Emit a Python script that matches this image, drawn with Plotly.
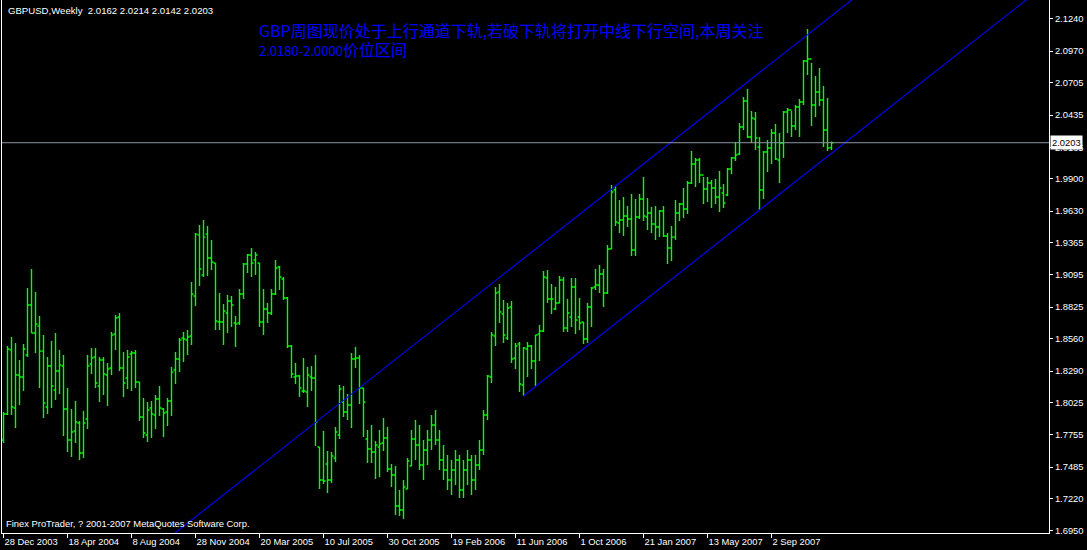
import plotly.graph_objects as go

# ---------------- data (weekly GBPUSD bars) ----------------
bar_open = [
    1.7712, 1.7930, 1.8466, 1.7980, 1.8256, 1.8240, 1.8424, 1.8843, 1.8608, 1.8667,
    1.8457, 1.7988, 1.8332, 1.8131, 1.8290, 1.8332, 1.7972, 1.7712, 1.7787, 1.7854,
    1.7603, 1.7888, 1.8349, 1.8407, 1.8164, 1.8382, 1.8256, 1.8315, 1.8600, 1.8742,
    1.8315, 1.8231, 1.8432, 1.8441, 1.8198, 1.7904, 1.7754, 1.7980, 1.7921, 1.8055,
    1.7972, 1.7946, 1.8039, 1.8298, 1.8391, 1.8567, 1.8550, 1.8583, 1.8919, 1.9429,
    1.9094, 1.9437, 1.9237, 1.9195, 1.8701, 1.8701, 1.8776, 1.8877, 1.8692, 1.8692,
    1.8935, 1.9187, 1.9262, 1.9220, 1.9195, 1.8701, 1.8810, 1.8776, 1.8935, 1.9162,
    1.9061, 1.8902, 1.8500, 1.8240, 1.8248, 1.8122, 1.8114, 1.8240, 1.8231, 1.7653,
    1.7377, 1.7511, 1.7377, 1.7561, 1.7754, 1.8030, 1.7946, 1.8005, 1.8391, 1.8399,
    1.8148, 1.7720, 1.7636, 1.7611, 1.7653, 1.7687, 1.7729, 1.7469, 1.7419, 1.7159,
    1.7125, 1.7301, 1.7494, 1.7720, 1.7670, 1.7502, 1.7628, 1.7712, 1.7838, 1.7712,
    1.7544, 1.7460, 1.7377, 1.7460, 1.7544, 1.7293, 1.7460, 1.7544, 1.7377, 1.7502,
    1.7628, 1.7921, 1.8240, 1.8583, 1.8952, 1.8768, 1.8567, 1.8826, 1.8399, 1.8516,
    1.8173, 1.8474, 1.8500, 1.8374, 1.8600, 1.8625, 1.9069, 1.8893, 1.8810, 1.8860,
    1.9052, 1.8650, 1.8742, 1.8994, 1.8742, 1.8701, 1.8558, 1.8826, 1.8994, 1.9011,
    1.9103, 1.8944, 1.9312, 1.9807, 1.9530, 1.9555, 1.9589, 1.9564, 1.9304, 1.9580,
    1.9731, 1.9580, 1.9614, 1.9522, 1.9497, 1.9631, 1.9421, 1.9321, 1.9412, 1.9614,
    1.9689, 1.9648, 1.9866, 2.0025, 2.0058, 1.9932, 1.9815, 1.9866, 1.9824, 1.9748,
    1.9782, 1.9765, 1.9983, 2.0075, 2.0108, 2.0335, 2.0553, 2.0251, 2.0402, 2.0167,
    1.9807, 2.0125, 2.0159, 2.0284, 2.0058, 2.0201, 2.0460, 2.0477, 2.0343, 2.0502,
    2.0544, 2.0888, 2.0905, 2.0519, 2.0628, 2.0561, 2.0310, 2.0162,
]
bar_high = [
    1.7946, 1.8500, 1.8575, 1.8525, 1.8382, 1.8516, 1.8986, 1.9145, 1.8952, 1.8751,
    1.8592, 1.8407, 1.8541, 1.8608, 1.8466, 1.8424, 1.8148, 1.7972, 1.8039, 1.7871,
    1.7955, 1.8424, 1.8483, 1.8483, 1.8407, 1.8407, 1.8357, 1.8617, 1.8759, 1.8776,
    1.8449, 1.8466, 1.8457, 1.8466, 1.8198, 1.8064, 1.8030, 1.8039, 1.8089, 1.8164,
    1.7980, 1.8064, 1.8324, 1.8449, 1.8567, 1.8617, 1.8633, 1.9036, 1.9446, 1.9513,
    1.9555, 1.9505, 1.9388, 1.9195, 1.8944, 1.8851, 1.8927, 1.8919, 1.8751, 1.8977,
    1.9195, 1.9270, 1.9321, 1.9287, 1.9195, 1.8977, 1.8860, 1.8977, 1.9220, 1.9170,
    1.9078, 1.8910, 1.8508, 1.8357, 1.8256, 1.8399, 1.8324, 1.8332, 1.8424, 1.7653,
    1.7787, 1.7620, 1.7611, 1.7821, 1.8173, 1.8164, 1.8097, 1.8441, 1.8491, 1.8424,
    1.8148, 1.7796, 1.7838, 1.7704, 1.7796, 1.7896, 1.7821, 1.7511, 1.7494, 1.7293,
    1.7377, 1.7561, 1.7796, 1.7879, 1.7838, 1.7712, 1.7796, 1.7921, 1.7963, 1.7796,
    1.7670, 1.7586, 1.7544, 1.7628, 1.7586, 1.7544, 1.7628, 1.7586, 1.7586, 1.7712,
    1.7963, 1.8256, 1.8617, 1.8994, 1.9019, 1.8885, 1.8860, 1.8877, 1.8525, 1.8533,
    1.8491, 1.8533, 1.8508, 1.8592, 1.8675, 1.9128, 1.9136, 1.9019, 1.8994, 1.9086,
    1.9078, 1.8893, 1.9069, 1.9069, 1.8902, 1.8701, 1.8860, 1.8994, 1.9145, 1.9178,
    1.9145, 1.9346, 1.9849, 1.9840, 1.9723, 1.9748, 1.9673, 1.9773, 1.9731, 1.9773,
    1.9916, 1.9740, 1.9664, 1.9673, 1.9639, 1.9673, 1.9446, 1.9505, 1.9723, 1.9698,
    1.9824, 1.9882, 2.0134, 2.0075, 2.0075, 1.9916, 1.9916, 1.9891, 1.9899, 1.9966,
    1.9857, 1.9991, 2.0083, 2.0209, 2.0368, 2.0586, 2.0653, 2.0469, 2.0460, 2.0251,
    2.0134, 2.0226, 2.0318, 2.0360, 2.0284, 2.0469, 2.0494, 2.0469, 2.0519, 2.0569,
    2.0896, 2.1156, 2.0871, 2.0762, 2.0829, 2.0678, 2.0578, 2.0214,
]
bar_low = [
    1.7687, 1.7921, 1.7921, 1.7812, 1.8005, 1.8122, 1.8407, 1.8608, 1.8441, 1.8148,
    1.7896, 1.7930, 1.7980, 1.8047, 1.8097, 1.7745, 1.7611, 1.7569, 1.7687, 1.7544,
    1.7561, 1.7804, 1.8265, 1.8148, 1.8030, 1.8089, 1.7997, 1.8256, 1.8466, 1.8290,
    1.8072, 1.8139, 1.8122, 1.8148, 1.7871, 1.7729, 1.7695, 1.7729, 1.7804, 1.7913,
    1.7737, 1.7829, 1.7913, 1.8181, 1.8281, 1.8365, 1.8424, 1.8508, 1.8835, 1.9002,
    1.9078, 1.9086, 1.9136, 1.8633, 1.8633, 1.8508, 1.8608, 1.8659, 1.8491, 1.8675,
    1.8893, 1.9111, 1.9078, 1.9094, 1.8659, 1.8592, 1.8692, 1.8759, 1.8927, 1.8969,
    1.8885, 1.8483, 1.8231, 1.8181, 1.8072, 1.8106, 1.7988, 1.8122, 1.7662, 1.7301,
    1.7343, 1.7268, 1.7351, 1.7527, 1.7720, 1.7904, 1.7879, 1.7812, 1.8315, 1.8014,
    1.7737, 1.7519, 1.7519, 1.7385, 1.7402, 1.7620, 1.7444, 1.7318, 1.7083, 1.7075,
    1.7050, 1.7301, 1.7494, 1.7544, 1.7460, 1.7377, 1.7502, 1.7628, 1.7670, 1.7460,
    1.7377, 1.7293, 1.7251, 1.7335, 1.7226, 1.7226, 1.7335, 1.7251, 1.7293, 1.7460,
    1.7586, 1.7879, 1.8190, 1.8500, 1.8692, 1.8525, 1.8550, 1.8357, 1.8307, 1.8114,
    1.8081, 1.8240, 1.8307, 1.8164, 1.8374, 1.8617, 1.8860, 1.8768, 1.8801, 1.8860,
    1.8617, 1.8617, 1.8659, 1.8600, 1.8633, 1.8516, 1.8525, 1.8659, 1.8969, 1.8944,
    1.8826, 1.8935, 1.9312, 1.9505, 1.9446, 1.9421, 1.9497, 1.9254, 1.9254, 1.9564,
    1.9547, 1.9471, 1.9446, 1.9388, 1.9412, 1.9412, 1.9187, 1.9212, 1.9388, 1.9547,
    1.9572, 1.9606, 1.9857, 1.9832, 1.9866, 1.9689, 1.9706, 1.9656, 1.9689, 1.9622,
    1.9656, 1.9757, 1.9941, 2.0050, 2.0100, 2.0310, 2.0243, 2.0201, 2.0142, 1.9639,
    1.9731, 1.9958, 2.0025, 2.0058, 1.9866, 2.0075, 2.0284, 2.0251, 2.0310, 2.0251,
    2.0519, 2.0771, 2.0343, 2.0419, 2.0511, 2.0167, 2.0134, 2.0142,
]
bar_close = [
    1.7930, 1.8474, 1.7988, 1.8256, 1.8240, 1.8474, 1.8843, 1.8608, 1.8684, 1.8457,
    1.8022, 1.8332, 1.8164, 1.8290, 1.8340, 1.7972, 1.7712, 1.7779, 1.7863, 1.7603,
    1.7854, 1.8332, 1.8399, 1.8190, 1.8382, 1.8265, 1.8307, 1.8592, 1.8734, 1.8315,
    1.8190, 1.8407, 1.8441, 1.8198, 1.7904, 1.7771, 1.7963, 1.7930, 1.8055, 1.7980,
    1.7938, 1.8039, 1.8281, 1.8391, 1.8550, 1.8558, 1.8575, 1.8935, 1.9437, 1.9145,
    1.9412, 1.9237, 1.9203, 1.8709, 1.8701, 1.8793, 1.8877, 1.8843, 1.8684, 1.8935,
    1.9187, 1.9262, 1.9195, 1.9262, 1.8701, 1.8810, 1.8776, 1.8935, 1.9153, 1.9078,
    1.8902, 1.8500, 1.8265, 1.8248, 1.8148, 1.8122, 1.8256, 1.8231, 1.7863, 1.7377,
    1.7368, 1.7377, 1.7578, 1.7779, 1.8139, 1.7946, 1.8005, 1.8391, 1.8399, 1.8148,
    1.8030, 1.7636, 1.7611, 1.7670, 1.7679, 1.7729, 1.7469, 1.7419, 1.7159, 1.7125,
    1.7318, 1.7536, 1.7720, 1.7670, 1.7502, 1.7628, 1.7712, 1.7838, 1.7712, 1.7544,
    1.7460, 1.7377, 1.7460, 1.7544, 1.7293, 1.7460, 1.7544, 1.7377, 1.7502, 1.7628,
    1.7921, 1.8248, 1.8592, 1.8944, 1.8784, 1.8592, 1.8818, 1.8391, 1.8500, 1.8181,
    1.8483, 1.8500, 1.8374, 1.8592, 1.8625, 1.9078, 1.8893, 1.8893, 1.8860, 1.9052,
    1.8650, 1.8776, 1.8994, 1.8717, 1.8692, 1.8558, 1.8826, 1.8986, 1.9011, 1.9103,
    1.8944, 1.9312, 1.9790, 1.9539, 1.9555, 1.9589, 1.9564, 1.9304, 1.9580, 1.9731,
    1.9589, 1.9614, 1.9522, 1.9497, 1.9631, 1.9421, 1.9321, 1.9412, 1.9614, 1.9689,
    1.9648, 1.9866, 2.0025, 2.0058, 1.9932, 1.9815, 1.9866, 1.9824, 1.9748, 1.9824,
    1.9698, 1.9983, 2.0075, 2.0100, 2.0335, 2.0553, 2.0251, 2.0410, 2.0243, 1.9807,
    2.0125, 2.0159, 2.0284, 2.0067, 2.0201, 2.0460, 2.0477, 2.0343, 2.0502, 2.0544,
    2.0888, 2.0905, 2.0519, 2.0628, 2.0561, 2.0310, 2.0159, 2.0203,
]

date_tick_bars = [0, 16, 32, 48, 64, 80, 96, 112, 128, 144, 160, 176, 192]
date_tick_labels = ["28 Dec 2003", "18 Apr 2004", "8 Aug 2004", "28 Nov 2004",
                    "20 Mar 2005", "10 Jul 2005", "30 Oct 2005", "19 Feb 2006",
                    "11 Jun 2006", "1 Oct 2006", "21 Jan 2007", "13 May 2007",
                    "2 Sep 2007"]
price_ticks = [2.1240, 2.0970, 2.0705, 2.0435, 2.0165, 1.9900, 1.9630, 1.9365,
               1.9095, 1.8825, 1.8560, 1.8290, 1.8025, 1.7755, 1.7485, 1.7220, 1.6950]

# channel: lower line through two weekly lows, upper parallel through one high
channel_low_bars = [130, 189]
channel_high_bar = 153

symbol_title = "GBPUSD,Weekly"
comment_head = "GBP周图现价处于上行通道下轨,若破下轨将打开中线下行空间,本周关注"
comment_range = "2.0180-2.0000"
comment_tail = "价位区间"
footer_text = "Finex ProTrader, ? 2001-2007 MetaQuotes Software Corp."

# ---------------- figure ----------------
n = len(bar_close)
bars = list(range(n))
x_min = -0.375
x_max = x_min + 1047 / 4.0
y_min, y_max = 1.69325, 2.1399

GREEN = "#00ff00"
BLUE = "#0000ff"
FONT = "Liberation Sans, Arial, sans-serif"
CJK = "Noto Sans CJK SC"

fig = go.Figure()
fig.add_trace(go.Ohlc(
    x=bars, open=bar_open, high=bar_high, low=bar_low, close=bar_close,
    increasing=dict(line=dict(color=GREEN, width=1.4)),
    decreasing=dict(line=dict(color=GREEN, width=1.4)),
    tickwidth=0.5, hoverinfo="skip", showlegend=False,
))

# channel lines
a, b = channel_low_bars
slope = (bar_low[b] - bar_low[a]) / (b - a)
lower_x = [a, x_max]
lower_y = [bar_low[a] + slope * (xx - a) for xx in lower_x]
h = channel_high_bar
upper_x = [0, x_max]
upper_y = [bar_high[h] + slope * (xx - h) for xx in upper_x]
for xs, ys in ((lower_x, lower_y), (upper_x, upper_y)):
    fig.add_trace(go.Scatter(x=xs, y=ys, mode="lines",
                             line=dict(color=BLUE, width=1.1),
                             hoverinfo="skip", showlegend=False))

last_o, last_h, last_l, last_c = bar_open[-1], bar_high[-1], bar_low[-1], bar_close[-1]

# bid line
fig.add_shape(type="line", xref="paper", x0=0, x1=1, yref="y", y0=last_c, y1=last_c,
              line=dict(color="#8c96a3", width=1), layer="above")

fig.add_annotation(
    xref="paper", yref="paper", x=0, y=1, xanchor="left", yanchor="top",
    xshift=4, yshift=-3, showarrow=False,
    text=f"{symbol_title}\u00a0\u00a0{last_o:.4f} {last_h:.4f} {last_l:.4f} {last_c:.4f}",
    font=dict(family=FONT, size=9.6, color="white"))
fig.add_annotation(
    xref="paper", yref="paper", x=0, y=1, xanchor="left", yanchor="middle",
    xshift=255, yshift=-30, showarrow=False, text=comment_head,
    font=dict(family=CJK, size=16, color=BLUE))
fig.add_annotation(
    xref="paper", yref="paper", x=0, y=1, xanchor="left", yanchor="middle",
    xshift=255, yshift=-49, showarrow=False,
    text=f'<span style="font-size:13px">{comment_range}</span>{comment_tail}',
    font=dict(family=CJK, size=16, color=BLUE))
fig.add_annotation(
    xref="paper", yref="paper", x=0, y=0, xanchor="left", yanchor="bottom",
    xshift=2, yshift=2, showarrow=False, text=footer_text,
    font=dict(family=FONT, size=9.4, color="white"))
fig.add_annotation(
    xref="paper", yref="y", x=1, y=last_c, xanchor="left", yanchor="middle",
    xshift=1, showarrow=False, text=f"{last_c:.4f}", bgcolor="white",
    borderpad=1, font=dict(family=FONT, size=9.4, color="black"))

fig.update_layout(
    width=1087, height=550,
    paper_bgcolor="black", plot_bgcolor="black",
    margin=dict(l=2, r=38, t=0, b=17, autoexpand=False),
    showlegend=False,
    xaxis=dict(
        range=[x_min, x_max], rangeslider=dict(visible=False),
        showgrid=False, zeroline=False,
        showline=True, linecolor="white", linewidth=1,
        ticks="outside", ticklen=4, tickcolor="white", tickwidth=1,
        tickvals=date_tick_bars, ticktext=date_tick_labels,
        ticklabelposition="outside right",
        tickfont=dict(family=FONT, size=9.4, color="white"),
        automargin=False, fixedrange=True,
    ),
    yaxis=dict(
        side="right", range=[y_min, y_max],
        showgrid=False, zeroline=False,
        showline=True, mirror=True, linecolor="white", linewidth=1,
        ticks="outside", ticklen=3, tickcolor="white", tickwidth=1,
        tickvals=price_ticks, tickformat=".4f",
        tickfont=dict(family=FONT, size=9.4, color="white"),
        automargin=False, fixedrange=True,
    ),
)

fig.write_html(
    "out.html",
    config={"displayModeBar": False},
    post_script="document.body.style.margin='0';document.body.style.padding='0';"
                "document.body.style.background='black';",
)
